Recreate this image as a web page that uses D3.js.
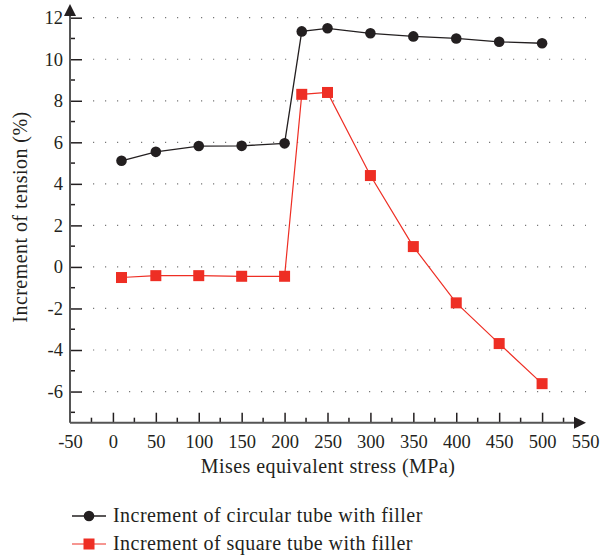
<!DOCTYPE html>
<meta charset="utf-8">
<style>
  html, body { margin: 0; padding: 0; background: #fff; }
  svg text { font-family: "Liberation Serif", "DejaVu Serif", serif; fill: #231f20; }
  .grid line { stroke: #777; stroke-width: 1.2; stroke-dasharray: 1.2 10.8; }
  .title { letter-spacing: 0.45px; }
</style>
<div id="chart"></div>
<script src="https://cdnjs.cloudflare.com/ajax/libs/d3/7.8.5/d3.min.js"></script>
<script>
// data
var stress = [10, 50, 100, 150, 200, 220, 250, 300, 350, 400, 450, 500];
var circular = [5.11, 5.54, 5.82, 5.83, 5.95, 11.34, 11.49, 11.25, 11.10, 11.0, 10.84, 10.77];
var square = [-0.51, -0.42, -0.42, -0.45, -0.45, 8.31, 8.40, 4.40, 0.98, -1.73, -3.69, -5.62];
var xTicks = [-50, 0, 50, 100, 150, 200, 250, 300, 350, 400, 450, 500, 550];
var yTicks = [-6, -4, -2, 0, 2, 4, 6, 8, 10, 12];
var seriesNames = ["Increment of circular tube with filler", "Increment of square tube with filler"];

var W = 600, H = 556;
var serif = '"Liberation Serif", "DejaVu Serif", serif';
var ink = "#231f20";
var svg = d3.select("#chart").append("svg").attr("width", W).attr("height", H);

var x = d3.scaleLinear().domain([-50, 550]).range([70, 585]);
var y = d3.scaleLinear().domain([-7.5, 12]).range([422.7, 17.7]);
var fmt = function(d) { return String(d); };

// dotted grid
svg.append("g").attr("class", "grid")
  .selectAll("line").data(yTicks).enter().append("line")
  .attr("x1", 93).attr("x2", 586)
  .attr("y1", function(d) { return y(d); }).attr("y2", function(d) { return y(d); });

// y axis, ticks point inward
var yAxis = svg.append("g").attr("transform", "translate(" + x(-50) + ",0)")
  .call(d3.axisLeft(y).tickValues(yTicks).tickSize(-12).tickPadding(7).tickFormat(fmt));
yAxis.attr("font-family", serif).attr("font-size", 18.5);
yAxis.select(".domain").remove();
yAxis.selectAll(".tick line").attr("stroke", ink).attr("stroke-width", 1.5);
yAxis.selectAll(".tick text").attr("x", -7);
svg.append("g").selectAll("line").data(d3.range(-7, 12, 2)).enter().append("line")
  .attr("x1", x(-50)).attr("x2", x(-50) + 5)
  .attr("y1", function(d) { return y(d); }).attr("y2", function(d) { return y(d); })
  .attr("stroke", ink).attr("stroke-width", 1.5);
svg.append("line").attr("x1", x(-50)).attr("x2", x(-50))
  .attr("y1", y(-7.5)).attr("y2", 12).attr("stroke", "#555").attr("stroke-width", 2);
svg.append("path").attr("d", d3.line()([[x(-50) - 6, 16], [x(-50), 4], [x(-50) + 6, 16]]) + "Z").attr("fill", ink);

// x axis, ticks point up
var xAxis = svg.append("g").attr("transform", "translate(0," + y(-7.5) + ")")
  .call(d3.axisBottom(x).tickValues(xTicks).tickSize(-10).tickPadding(12).tickFormat(fmt));
xAxis.attr("font-family", serif).attr("font-size", 18.5);
xAxis.select(".domain").remove();
xAxis.selectAll(".tick line").attr("stroke", ink).attr("stroke-width", 1.5)
  .filter(function(d) { return d === -50 || d === 550; }).remove();
svg.append("g").selectAll("line").data(d3.range(-25, 550, 50)).enter().append("line")
  .attr("x1", function(d) { return x(d); }).attr("x2", function(d) { return x(d); })
  .attr("y1", y(-7.5)).attr("y2", y(-7.5) - 5)
  .attr("stroke", ink).attr("stroke-width", 1.5);
svg.append("line").attr("x1", x(-50)).attr("x2", 576)
  .attr("y1", y(-7.5)).attr("y2", y(-7.5)).attr("stroke", "#555").attr("stroke-width", 2);
svg.append("path").attr("d", d3.line()([[574, y(-7.5) - 6], [586, y(-7.5)], [574, y(-7.5) + 6]]) + "Z").attr("fill", ink);

// axis titles
svg.append("text").attr("class", "title").attr("x", 328).attr("y", 473).attr("text-anchor", "middle")
  .attr("font-size", 20).text("Mises equivalent stress (MPa)");
svg.append("text").attr("class", "title").attr("transform", "translate(27,217) rotate(-90)").attr("text-anchor", "middle")
  .attr("font-size", 20).text("Increment of tension (%)");

// series
var line = d3.line().x(function(d) { return x(d[0]); }).y(function(d) { return y(d[1]); });
var circPts = d3.zip(stress, circular), sqPts = d3.zip(stress, square);

svg.append("path").datum(circPts).attr("d", line).attr("fill", "none").attr("stroke", ink).attr("stroke-width", 1.3);
svg.append("g").selectAll("circle").data(circPts).enter().append("circle")
  .attr("cx", function(d) { return x(d[0]); }).attr("cy", function(d) { return y(d[1]); })
  .attr("r", 5.3).attr("fill", ink);

svg.append("path").datum(sqPts).attr("d", line).attr("fill", "none").attr("stroke", "#ee2e24").attr("stroke-width", 1.2);
svg.append("g").selectAll("rect").data(sqPts).enter().append("rect")
  .attr("x", function(d) { return x(d[0]) - 5.5; }).attr("y", function(d) { return y(d[1]) - 5.5; })
  .attr("width", 11).attr("height", 11).attr("fill", "#ee2e24");

// legend
var legend = svg.append("g");
var legY = [516, 544];
legend.append("line").attr("x1", 72).attr("x2", 106).attr("y1", legY[0]).attr("y2", legY[0]).attr("stroke", ink).attr("stroke-width", 1.3);
legend.append("circle").attr("cx", 89).attr("cy", legY[0]).attr("r", 5.3).attr("fill", ink);
legend.append("line").attr("x1", 72).attr("x2", 106).attr("y1", legY[1]).attr("y2", legY[1]).attr("stroke", "#ee2e24").attr("stroke-width", 1.2);
legend.append("rect").attr("x", 83.5).attr("y", legY[1] - 5.5).attr("width", 11).attr("height", 11).attr("fill", "#ee2e24");
legend.selectAll("text").data(seriesNames).enter().append("text").attr("class", "title")
  .attr("x", 113).attr("y", function(d, i) { return legY[i] + 6; })
  .attr("font-size", 20).text(function(d) { return d; });
</script>
